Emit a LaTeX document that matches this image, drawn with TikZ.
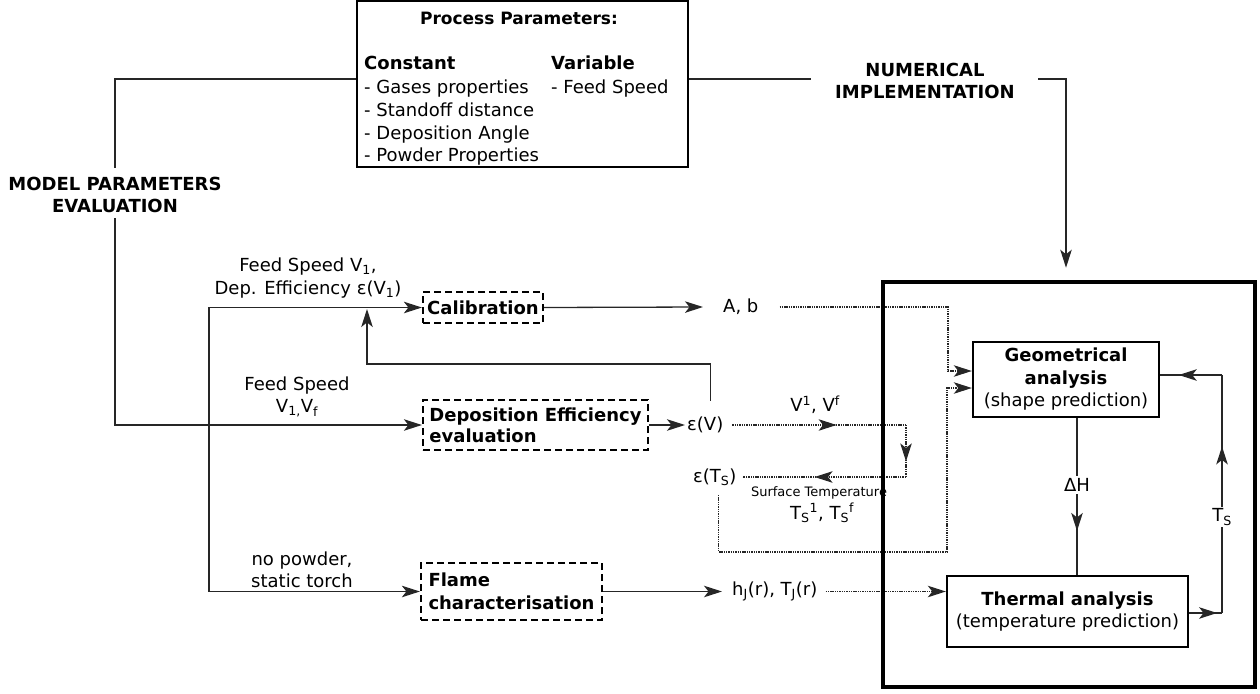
\documentclass[tikz,border=0pt]{standalone}
\usepackage{fontspec}
\setmainfont{DejaVu Sans}
\usetikzlibrary{arrows.meta,decorations.markings,calc}
\pgfdeclarelayer{front}
\pgfsetlayers{main,front}
\tikzset{
  >={Stealth[length=18pt,width=11.5pt,inset=4.5pt]},
  every node/.style={font=\fontsize{18}{22.5}\selectfont, inner sep=0pt},
  bf/.style={font=\fontsize{18}{22.5}\selectfont\bfseries},
  conn/.style={line width=1.3pt, draw=black!85},
  dotl/.style={line width=1.1pt, draw=black!85, dash pattern=on 1.4pt off 0.9pt},
  dbox/.style={draw, line width=2.2pt, dash pattern=on 7pt off 4pt},
  sbox/.style={draw, line width=2.4pt},
  marr/.style={postaction={decorate,decoration={markings,mark=at position #1 with {\arrow{>}}}}},
}
\begin{document}
\begin{tikzpicture}[x=1pt,y=-1pt]
\useasboundingbox (0,0) rectangle (1260,693);

% process parameters box
\node[draw, line width=1.3pt, minimum width=331pt, minimum height=166pt] (proc) at (522.5,84) {};
\node[font=\fontsize{17}{20}\selectfont\bfseries] (ptitle) at (519,18) {Process Parameters:};
\node[bf, anchor=base west] (cst) at (364,69.5) {Constant};
\node[anchor=base west] (c1) at (364,93) {- Gases properties};
\node[anchor=base west] (c2) at (364,116) {- Standoff distance};
\node[anchor=base west] (c3) at (364,139) {- Deposition Angle};
\node[anchor=base west] (c4) at (364,161) {- Powder Properties};
\node[bf, anchor=base west] (var) at (551,69.5) {Variable};
\node[anchor=base west] (v1) at (551,93) {- Feed Speed};

% section labels
\node[bf, align=center] (mpe) at (115,195) {MODEL PARAMETERS\\EVALUATION};
\node[bf, align=center] (num) at (925,81) {NUMERICAL\\IMPLEMENTATION};

% dashed boxes
\node[dbox, bf, minimum width=120pt, minimum height=31pt] (calib) at (483,307.5) {Calibration};
\node[dbox, align=left, minimum width=225pt, minimum height=50pt, font=\fontsize{18}{21}\selectfont\bfseries] (depeff) at (535.5,425) {Deposition Efficiency\\evaluation};
\node[dbox, bf, align=left, minimum width=181pt, minimum height=57pt] (flame) at (511.5,591.5) {Flame\\characterisation};

% analysis boxes
\node[sbox, align=center, minimum width=186pt, minimum height=75pt] (geom) at (1066,379.5) {\textbf{Geometrical}\\\textbf{analysis}\\(shape prediction)};
\node[sbox, align=center, minimum width=241pt, minimum height=71pt] (thermal) at (1067.5,611.5) {\textbf{Thermal analysis}\\(temperature prediction)};

\begin{pgfonlayer}{front}
\node[draw, line width=4.5pt, minimum width=372pt, minimum height=405pt] (big) at (1069,484.5) {};
\end{pgfonlayer}

% input labels
\node[align=center] (lfs1) at (308,278) {Feed Speed V\textsubscript{1},\\Dep. Efficiency ε(V\textsubscript{1})};
\node[align=center] (lfs2) at (297,397) {Feed Speed\\V\textsubscript{1,}V\textsubscript{f}};
\node[align=center] (lnp) at (302,570) {no powder,\\static torch};

% result labels
\node[anchor=west] (ab) at (723,307) {A, b};
\node[anchor=west] (epsv) at (687,425) {ε(V)};
\node[anchor=west] (epsts) at (693,477) {ε(T\textsubscript{S})};
\node (vlab) at (815,405) {V\textsuperscript{1}, V\textsuperscript{f}};
\node[font=\fontsize{13}{16}\selectfont] (stl1) at (819,493) {Surface Temperature};
\node (stl2) at (822,513) {T\textsubscript{S}\textsuperscript{1}, T\textsubscript{S}\textsuperscript{f}};
\node[anchor=west] (hj) at (732,591.5) {h\textsubscript{J}(r), T\textsubscript{J}(r)};

% coordinates
\coordinate (j) at (209,425);
\coordinate (nl) at (811,79);
\coordinate (nr) at (1038,79);
\coordinate (fb1) at (367,364);
\coordinate (fb2) at (367,309);
\coordinate (c1) at (906,425);
\coordinate (c2) at (906,477);
\coordinate (g1) at (948,371);
\coordinate (g2) at (947,552);
\coordinate (g3) at (947,388);
\coordinate (t1) at (1222,613);
\coordinate (t2) at (1222,375);

% solid connectors
\draw[conn] ([yshift=5pt]proc.west) -| ([yshift=9pt]mpe.north);
\draw[conn,->] ([yshift=-5pt]mpe.south) |- (depeff.west);
\draw[conn,->] (j) |- (calib.west);
\draw[conn,->] (j) |- (flame.west);
\draw[conn] ([yshift=5pt]proc.east) -- (nl);
\draw[conn,->] (nr) -| ([xshift=-3pt,yshift=12pt]big.north);
\draw[conn,->] (calib.east) -- ([xshift=-20pt]ab.west);
\draw[conn,->] (depeff.east) -- ([xshift=-2pt]epsv.west);
\draw[conn,->] (flame.east) -- ([xshift=-10pt]hj.west);
\draw[conn,->] ([xshift=5pt,yshift=16pt]epsv.north) |- (fb1) -- (fb2);

% dotted connectors
\draw[dotl, marr=0.6] ([xshift=9pt]epsv.east) -- (c1);
\draw[dotl, marr=0.7] (c1) -- (c2);
\draw[dotl, marr=0.56] (c2) -- ([xshift=6pt]epsts.east);
\draw[dotl,->] ([xshift=21pt]ab.east) -| (g1) -- (geom.west |- g1);
\draw[dotl,->] ([xshift=4pt,yshift=-9pt]epsts.south) |- (g2) -- (g3) -- (geom.west |- g3);
\draw[dotl,->] ([xshift=8pt]hj.east) -- (thermal.west |- hj.east);

% internal loop
\draw[conn, marr=0.72] ([xshift=11pt]geom.south) -- ([xshift=9.5pt]thermal.north);
\node[fill=white, inner sep=2pt] (dh) at (1077,485) {ΔH};
\draw[conn, marr=0.85] ([yshift=-1.5pt]thermal.east) -- (t1);
\draw[conn, marr=0.7] (t1) -- (t2);
\draw[conn, marr=0.7] (t2) -- (geom.east |- t2);
\node[fill=white, inner sep=2pt] (tsl) at (1222,517) {T\textsubscript{S}};
\end{tikzpicture}
\end{document}
